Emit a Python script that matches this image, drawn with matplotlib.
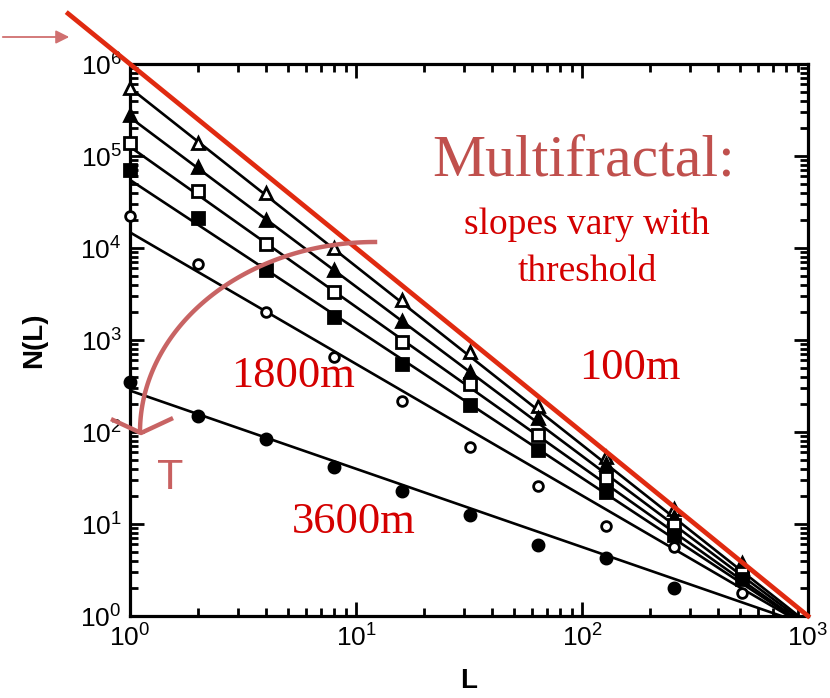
import numpy as np
import matplotlib
matplotlib.use("Agg")
import matplotlib.pyplot as plt

plt.rcParams["font.family"] = ["Liberation Sans", "DejaVu Sans"]

# data: box sizes L and counts N(L) for each threshold
L = [1, 2, 4, 8, 16, 32, 64, 128, 256, 512]
n_tri_open = [5.5e5, 1.38e5, 4.0e4, 1.0e4, 2.7e3, 7.4e2, 1.9e2, 53, 14.6, 3.8]
n_tri_fill = [2.8e5, 7.6e4, 2.0e4, 5.8e3, 1.6e3, 450, 142, 45, 12, 3.3]
n_sq_open = [1.38e5, 4.2e4, 1.1e4, 3.3e3, 950, 330, 93, 32, 9.8, 2.9]
n_sq_fill = [7.1e4, 2.1e4, 5.8e3, 1.8e3, 550, 196, 63, 22, 7.6, 2.5]
n_circ_open = [2.2e4, 6.7e3, 2.0e3, 650, 218, 69, 26, 9.5, 5.6, 1.8]
L_circ_fill = [1, 2, 4, 8, 16, 32, 64, 128, 256]
n_circ_fill = [350, 150, 84, 42, 23, 12.5, 5.9, 4.3, 2.0]

# fitted power laws: log10 N(1) and slope
fit_logA = [5.74, 5.42, 5.10, 4.74, 4.17, 2.45]
fit_slope = [1.94, 1.84, 1.74, 1.62, 1.43, 0.85]

W, H = 830, 698
fig = plt.figure(figsize=(W / 100, H / 100), dpi=100)
ax = fig.add_axes([130 / W, 1 - 616 / H, (808 - 130) / W, (616 - 64) / H])
ax.set_xscale("log")
ax.set_yscale("log")
ax.set_xlim(1, 1000)
ax.set_ylim(1, 1e6)

# fit lines
Lf = np.logspace(0, 3, 200)
for la, s in zip(fit_logA, fit_slope):
    ax.plot(Lf, 10 ** la * Lf ** (-s), color="black", lw=1.9, zorder=2)

# markers
mk = dict(ms=9, mew=2, color="black", ls="none", clip_on=False, zorder=3)
ax.plot(L, n_tri_open, marker="^", mfc="white", **mk)
ax.plot(L, n_tri_fill, marker="^", mfc="black", **mk)
ax.plot(L, n_sq_open, marker="s", mfc="white", **dict(mk, ms=8))
ax.plot(L, n_sq_fill, marker="s", mfc="black", **dict(mk, ms=8))
ax.plot(L, n_circ_open, marker="o", mfc="white", **dict(mk, ms=7))
ax.plot(L_circ_fill, n_circ_fill, marker="o", mfc="black", **dict(mk, ms=8))

# red slope-2 reference line, extends beyond the axes
Lr = np.logspace(-0.274, 3, 50)
ax.plot(Lr, 1e6 * Lr ** -2.0, color="#e02a10", lw=3.4, clip_on=False, zorder=4)

# axes styling
for sp in ax.spines.values():
    sp.set_linewidth(2.3)
ax.tick_params(which="both", direction="in", top=True, right=True, width=2)
ax.tick_params(which="major", length=10, labelsize=19, pad=6)
ax.tick_params(which="minor", length=6)
ax.yaxis.set_major_locator(matplotlib.ticker.LogLocator(base=10, numticks=10))
ax.yaxis.set_minor_locator(matplotlib.ticker.LogLocator(base=10, subs=np.arange(2, 10), numticks=10))
ax.set_xlabel("L", fontsize=20, fontweight="bold", labelpad=12)
ax.set_ylabel("N(L)", fontsize=20, fontweight="bold", labelpad=24)

# annotations
serif = "Liberation Serif"
fig.text(432 / W, 1 - 162 / H, "Multifractal:", fontsize=43, family=serif,
         color="#c0504d", va="center", ha="left")
fig.text(587 / W, 1 - 225 / H, "slopes vary with", fontsize=27, family=serif,
         color="#d40000", va="center", ha="center")
fig.text(587 / W, 1 - 272 / H, "threshold", fontsize=27, family=serif,
         color="#d40000", va="center", ha="center")
fig.text(630 / W, 1 - 368 / H, "100m", fontsize=32, family=serif,
         color="#d40000", va="center", ha="center")
fig.text(293 / W, 1 - 376 / H, "1800m", fontsize=32, family=serif,
         color="#d40000", va="center", ha="center")
fig.text(354 / W, 1 - 522 / H, "3600m", fontsize=32, family=serif,
         color="#d40000", va="center", ha="center")
fig.text(170 / W, 1 - 478 / H, "T", fontsize=31,
         color="#c86060", va="center", ha="center")

# curved arrow (quarter ellipse) in pixel coords
t = np.linspace(np.pi / 2, np.pi, 100)
ax_px = 375 + 235 * np.cos(t)
ay_px = 432 - 190 * np.sin(t)
arc_c = "#c86464"
fig.add_artist(plt.Line2D(ax_px / W, 1 - ay_px / H, color=arc_c, lw=3.2,
                          transform=fig.transFigure))
fig.add_artist(plt.Line2D(np.array([113, 141, 171]) / W,
                          1 - np.array([420, 433, 419]) / H,
                          color=arc_c, lw=3.2, transform=fig.transFigure))

# small arrow at top left
fig.add_artist(matplotlib.patches.FancyArrowPatch(
    (0, 1 - 37 / H), (72 / W, 1 - 37 / H), transform=fig.transFigure,
    arrowstyle="-|>,head_length=8,head_width=4", color="#d07070", lw=1.3))

fig.savefig("out.png", dpi=100)
